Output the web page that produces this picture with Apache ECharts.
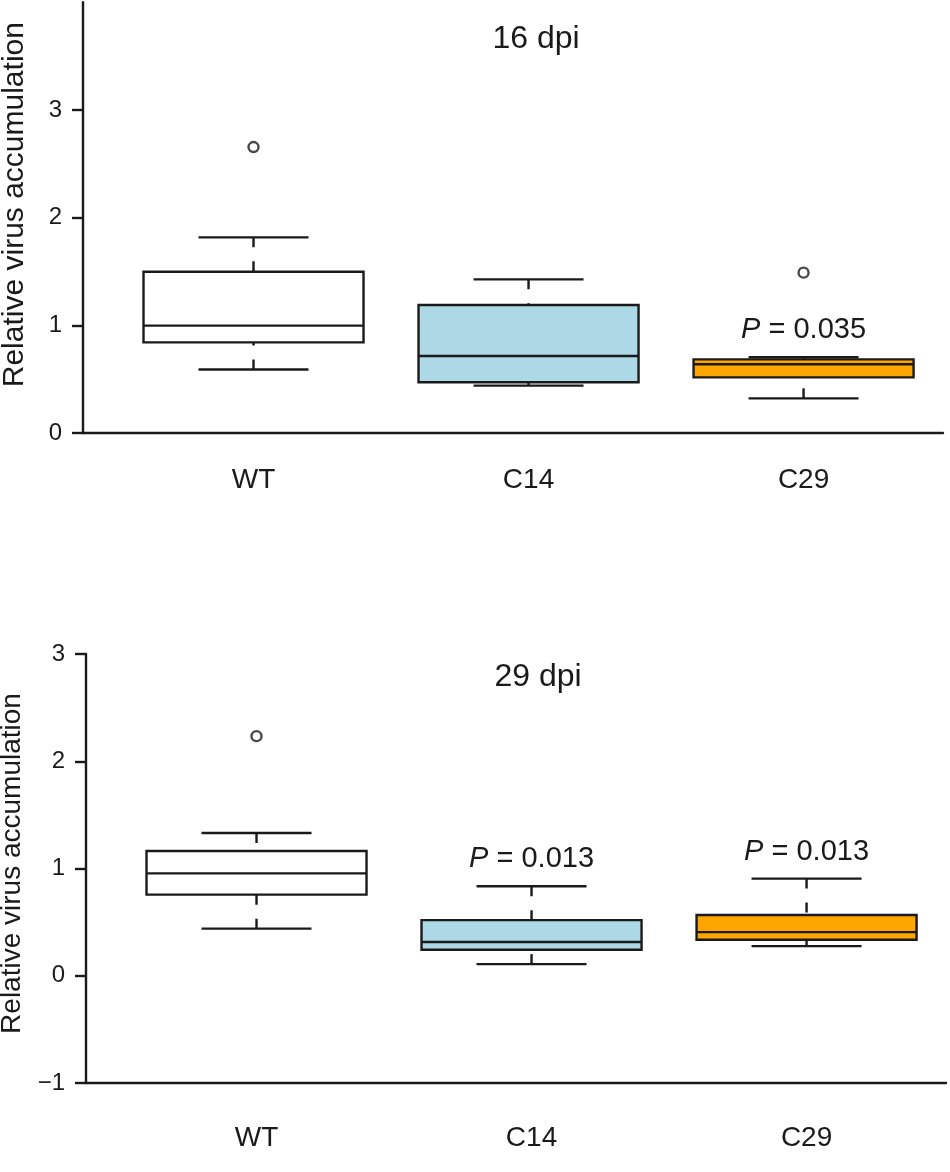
<!DOCTYPE html>
<html><head><meta charset="utf-8">
<script src="https://cdn.jsdelivr.net/npm/echarts@6/dist/echarts.min.js"></script>
<style>html,body{margin:0;padding:0;background:#fff}#c{width:950px;height:1172px}</style>
</head><body><div id="c"></div>
<script>
const categories = ['WT', 'C14', 'C29'];
const fillColors = ['#ffffff', '#add8e6', '#ffa500'];
// box statistics per category: [min whisker, Q1, median, Q3, max whisker]
const stats16 = [
  [0.59, 0.842, 0.997, 1.498, 1.817],
  [0.44, 0.471, 0.715, 1.189, 1.427],
  [0.322, 0.517, 0.638, 0.684, 0.703]
];
const outliers16 = [[1, 2.656], [3, 1.489]];
const pValues16 = ['', '', '0.035'];
const stats29 = [
  [0.439, 0.756, 0.955, 1.163, 1.331],
  [0.108, 0.243, 0.314, 0.519, 0.834],
  [0.276, 0.336, 0.407, 0.566, 0.906]
];
const outliers29 = [[1, 2.234]];
const pValues29 = ['', '0.013', '0.013'];
const yTicks16 = [0, 1, 2, 3];
const yTicks29 = [-1, 0, 1, 2, 3];

const FONT = "'Liberation Sans', Arial, Helvetica, sans-serif";
const INK = '#1a1a1a';
const LW = 2.4;

function toRows(stats) {
  return stats.map((s, i) => [i + 1].concat(s));
}

function boxRender(pValues) {
  return function (params, api) {
    const x = api.value(0);
    const vmin = api.value(1), q1 = api.value(2), med = api.value(3), q3 = api.value(4), vmax = api.value(5);
    const halfBox = api.size([0.4, 0])[0];
    const halfCap = api.size([0.2, 0])[0];
    const cx = api.coord([x, med])[0];
    const y = v => api.coord([x, v])[1];
    const idx = params.dataIndex;
    const line = { stroke: INK, lineWidth: LW };
    const dashed = { stroke: INK, lineWidth: LW, lineDash: [10, 14] };
    const children = [
      { type: 'line', shape: { x1: cx, y1: y(vmax), x2: cx, y2: y(q3) }, style: dashed },
      { type: 'line', shape: { x1: cx, y1: y(vmin), x2: cx, y2: y(q1) }, style: dashed },
      { type: 'rect', shape: { x: cx - halfBox, y: y(q3), width: 2 * halfBox, height: y(q1) - y(q3) },
        style: { fill: fillColors[idx], stroke: INK, lineWidth: LW } },
      { type: 'line', shape: { x1: cx - halfBox, y1: y(med), x2: cx + halfBox, y2: y(med) }, style: line },
      { type: 'line', shape: { x1: cx - halfCap, y1: y(vmax), x2: cx + halfCap, y2: y(vmax) }, style: line },
      { type: 'line', shape: { x1: cx - halfCap, y1: y(vmin), x2: cx + halfCap, y2: y(vmin) }, style: line }
    ];
    if (pValues[idx]) {
      children.push({
        type: 'text',
        style: {
          text: '{i|P} = ' + pValues[idx],
          x: cx, y: y(vmax) - 27,
          align: 'center', verticalAlign: 'middle',
          fontSize: 29, fontFamily: FONT, fill: INK,
          rich: { i: { fontStyle: 'italic', fontSize: 29, fontFamily: FONT, fill: INK } }
        }
      });
    }
    return { type: 'group', children };
  };
}

function xAxisFor(gi, margin) {
  return {
    gridIndex: gi, type: 'value', min: 0.38, max: 3.507,
    axisLine: { show: true, onZero: false, lineStyle: { color: INK, width: LW } },
    axisTick: { show: false },
    splitLine: { show: false },
    axisLabel: {
      customValues: [1, 2, 3],
      formatter: v => categories[Math.round(v) - 1],
      fontSize: 28, fontFamily: FONT, color: INK, margin: margin
    }
  };
}

function yAxisFor(gi, min, max, ticks, nameSize, nameGap, namePad) {
  return {
    gridIndex: gi, type: 'value', min: min, max: max, interval: 1,
    axisLine: { show: true, onZero: false, lineStyle: { color: INK, width: LW } },
    axisTick: { show: true, length: 11, customValues: ticks, lineStyle: { color: INK, width: LW } },
    splitLine: { show: false },
    axisLabel: {
      customValues: ticks,
      formatter: v => (v < 0 ? '\u2212' + Math.abs(v) : String(v)),
      fontSize: 24, fontFamily: FONT, color: INK, margin: 21
    },
    name: 'Relative virus accumulation',
    nameLocation: 'middle', nameRotate: 90, nameGap: nameGap,
    nameTextStyle: { fontSize: nameSize, fontFamily: FONT, color: INK, padding: namePad }
  };
}

const chart = echarts.init(document.getElementById('c'), null, { renderer: 'canvas' });
chart.setOption({
  backgroundColor: '#ffffff',
  animation: false,
  title: [
    { text: '16 dpi', left: 531, top: 18, textAlign: 'center',
      textStyle: { fontSize: 32, fontWeight: 'normal', fontFamily: FONT, color: INK } },
    { text: '29 dpi', left: 533, top: 656, textAlign: 'center',
      textStyle: { fontSize: 32, fontWeight: 'normal', fontFamily: FONT, color: INK } }
  ],
  grid: [
    { left: 83, right: 7, top: 2.3, height: 430.7, outerBoundsMode: 'none', containLabel: false },
    { left: 86, right: 4, top: 654, height: 429, outerBoundsMode: 'none', containLabel: false }
  ],
  xAxis: [xAxisFor(0, 33), xAxisFor(1, 41)],
  yAxis: [
    yAxisFor(0, 0, 4, yTicks16, 30, 53, [0, 0, 0, 26]),
    yAxisFor(1, -1, 3, yTicks29, 28, 48, [0, 0, 0, 10])
  ],
  series: [
    { type: 'custom', xAxisIndex: 0, yAxisIndex: 0, data: toRows(stats16),
      encode: { x: 0, y: [1, 2, 3, 4, 5] }, renderItem: boxRender(pValues16), clip: false },
    { type: 'scatter', xAxisIndex: 0, yAxisIndex: 0, data: outliers16, symbol: 'circle', symbolSize: 10,
      itemStyle: { color: '#fff', borderColor: INK, borderWidth: LW } },
    { type: 'custom', xAxisIndex: 1, yAxisIndex: 1, data: toRows(stats29),
      encode: { x: 0, y: [1, 2, 3, 4, 5] }, renderItem: boxRender(pValues29), clip: false },
    { type: 'scatter', xAxisIndex: 1, yAxisIndex: 1, data: outliers29, symbol: 'circle', symbolSize: 10,
      itemStyle: { color: '#fff', borderColor: INK, borderWidth: LW } }
  ]
});
</script></body></html>
